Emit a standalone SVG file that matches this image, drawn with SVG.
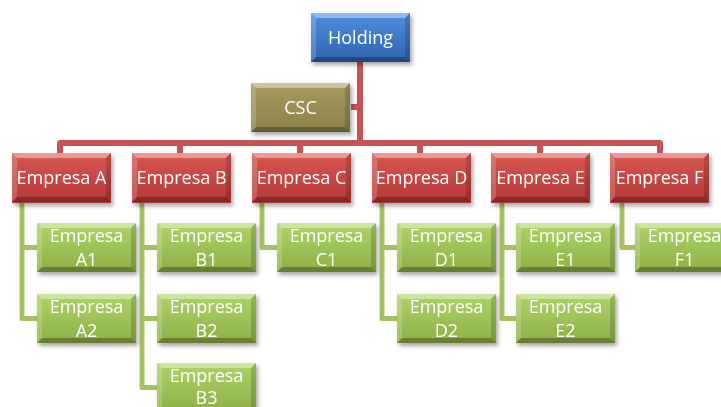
<svg xmlns="http://www.w3.org/2000/svg" xmlns:xlink="http://www.w3.org/1999/xlink" width="721" height="407" viewBox="0 0 721 407">
<style>
text{font-family:"Open Sans","Liberation Sans",sans-serif;font-size:18px;fill:#fff;text-anchor:middle}
.red{fill:url(#gRed)}
.grn{fill:url(#gGrn)}
.rc{fill:none;stroke:#c65353;stroke-width:6;stroke-linejoin:round;stroke-linecap:butt}
.gc{fill:none;stroke:#a4c260;stroke-width:5;stroke-linejoin:round;stroke-linecap:butt}
</style>
<defs>
<linearGradient id="gRed" x1="0" y1="0" x2="0" y2="1"><stop offset="0" stop-color="#d85854"/><stop offset="1" stop-color="#b33835"/></linearGradient>
<linearGradient id="gGrn" x1="0" y1="0" x2="0" y2="1"><stop offset="0" stop-color="#add468"/><stop offset="1" stop-color="#8db046"/></linearGradient>
<linearGradient id="gBlu" x1="0" y1="0" x2="0" y2="1"><stop offset="0" stop-color="#4f8ee0"/><stop offset="1" stop-color="#2f63ae"/></linearGradient>
<linearGradient id="gOli" x1="0" y1="0" x2="0" y2="1"><stop offset="0" stop-color="#a69c60"/><stop offset="1" stop-color="#8a8148"/></linearGradient>
<filter id="sh" x="-10%" y="-10%" width="130%" height="140%"><feDropShadow dx="2" dy="3" stdDeviation="2" flood-color="#000" flood-opacity="0.35"/></filter>
<g id="bev">
<polygon points="0,0 99,0 94,5 5,5" fill="#fff" fill-opacity="0.4"/>
<polygon points="0,0 5,5 5,44 0,49" fill="#fff" fill-opacity="0.18"/>
<polygon points="99,0 99,49 94,44 94,5" fill="#000" fill-opacity="0.15"/>
<polygon points="0,49 5,44 94,44 99,49" fill="#000" fill-opacity="0.28"/>
</g>
<g id="redBox"><rect width="99" height="50" class="red"/><use xlink:href="#bev"/></g>
<g id="grnBox"><rect width="99" height="49" class="grn"/><use xlink:href="#bev"/></g>
</defs>

<g id="connectors">
<path class="rc" d="M360,62 V143 M351,107 H360 M60,153 V143 H660 V153 M180,143 V153 M300,143 V153 M420,143 V153 M540,143 V153"/>
<path class="gc" d="M22,203 V318.5 H37 M22,247.5 H37"/>
<path class="gc" d="M142,203 V387.5 H157 M142,247.5 H157 M142,318.5 H157"/>
<path class="gc" d="M262,203 V247.5 H277"/>
<path class="gc" d="M382,203 V318.5 H397 M382,247.5 H397"/>
<path class="gc" d="M502,203 V318.5 H517 M502,247.5 H517"/>
<path class="gc" d="M622,203 V247.5 H637"/>
</g>

<g id="holding" filter="url(#sh)"><rect x="311" y="13" width="99" height="49" fill="url(#gBlu)"/><use xlink:href="#bev" x="311" y="13"/><text x="360.5" y="44">Holding</text></g>
<g id="csc" filter="url(#sh)"><rect x="251" y="83" width="99" height="49" fill="url(#gOli)"/><use xlink:href="#bev" x="251" y="83"/><text x="300.5" y="114">CSC</text></g>

<g id="empresaA" filter="url(#sh)"><use xlink:href="#redBox" x="12" y="153"/><text x="61.5" y="184">Empresa A</text></g>
<g id="empresaB" filter="url(#sh)"><use xlink:href="#redBox" x="132" y="153"/><text x="181.5" y="184">Empresa B</text></g>
<g id="empresaC" filter="url(#sh)"><use xlink:href="#redBox" x="252" y="153"/><text x="301.5" y="184">Empresa C</text></g>
<g id="empresaD" filter="url(#sh)"><use xlink:href="#redBox" x="372" y="153"/><text x="421.5" y="184">Empresa D</text></g>
<g id="empresaE" filter="url(#sh)"><use xlink:href="#redBox" x="491" y="153"/><text x="540.5" y="184">Empresa E</text></g>
<g id="empresaF" filter="url(#sh)"><use xlink:href="#redBox" x="610" y="153"/><text x="659.5" y="184">Empresa F</text></g>

<g id="empresaA1" filter="url(#sh)"><use xlink:href="#grnBox" x="37" y="223"/><text x="86.5" y="242">Empresa</text><text x="86.5" y="266">A1</text></g>
<g id="empresaA2" filter="url(#sh)"><use xlink:href="#grnBox" x="37" y="294"/><text x="86.5" y="313">Empresa</text><text x="86.5" y="337">A2</text></g>
<g id="empresaB1" filter="url(#sh)"><use xlink:href="#grnBox" x="157" y="223"/><text x="206.5" y="242">Empresa</text><text x="206.5" y="266">B1</text></g>
<g id="empresaB2" filter="url(#sh)"><use xlink:href="#grnBox" x="157" y="294"/><text x="206.5" y="313">Empresa</text><text x="206.5" y="337">B2</text></g>
<g id="empresaB3" filter="url(#sh)"><use xlink:href="#grnBox" x="157" y="363"/><text x="206.5" y="382">Empresa</text><text x="206.5" y="404">B3</text></g>
<g id="empresaC1" filter="url(#sh)"><use xlink:href="#grnBox" x="277" y="223"/><text x="326.5" y="242">Empresa</text><text x="326.5" y="266">C1</text></g>
<g id="empresaD1" filter="url(#sh)"><use xlink:href="#grnBox" x="397" y="223"/><text x="446.5" y="242">Empresa</text><text x="446.5" y="266">D1</text></g>
<g id="empresaD2" filter="url(#sh)"><use xlink:href="#grnBox" x="397" y="294"/><text x="446.5" y="313">Empresa</text><text x="446.5" y="337">D2</text></g>
<g id="empresaE1" filter="url(#sh)"><use xlink:href="#grnBox" x="516" y="223"/><text x="565.5" y="242">Empresa</text><text x="565.5" y="266">E1</text></g>
<g id="empresaE2" filter="url(#sh)"><use xlink:href="#grnBox" x="516" y="294"/><text x="565.5" y="313">Empresa</text><text x="565.5" y="337">E2</text></g>
<g id="empresaF1" filter="url(#sh)"><use xlink:href="#grnBox" x="635" y="223"/><text x="684.5" y="242">Empresa</text><text x="684.5" y="266">F1</text></g>
</svg>
